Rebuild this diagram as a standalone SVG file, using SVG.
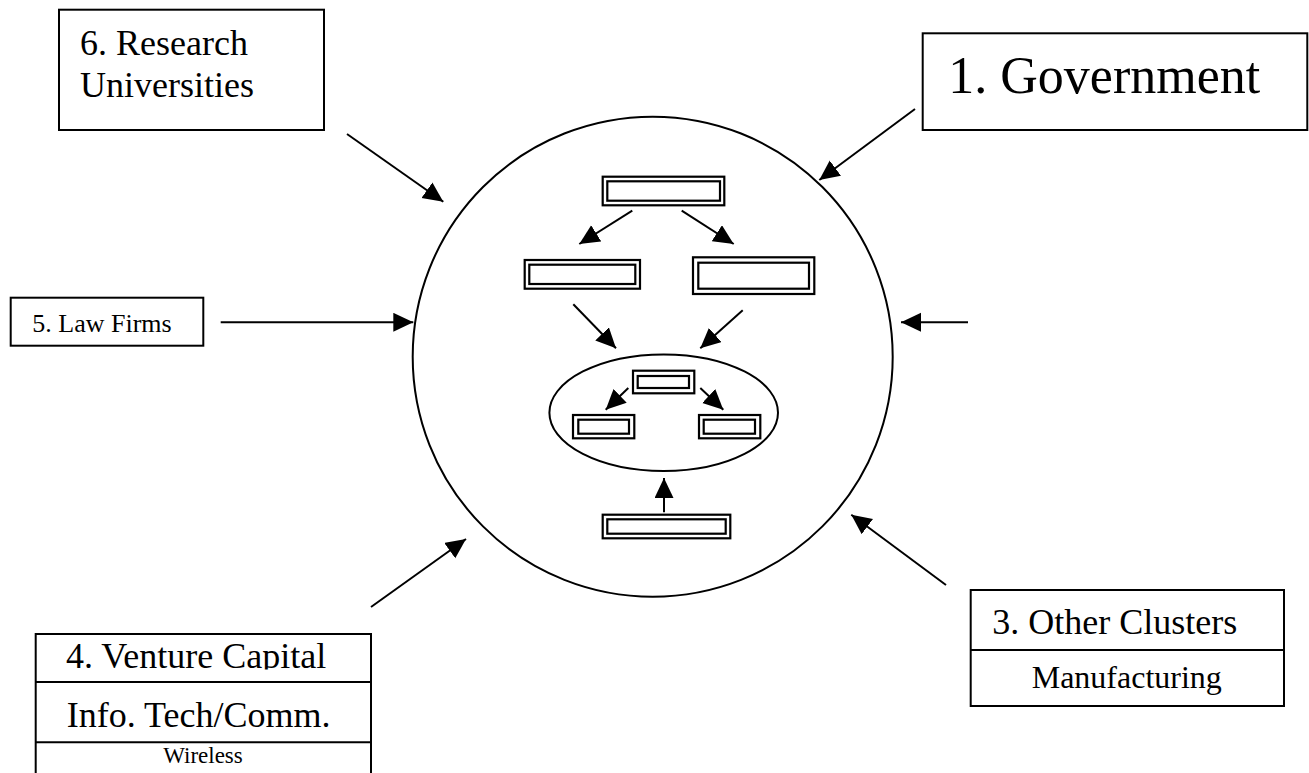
<svg xmlns="http://www.w3.org/2000/svg" width="1309" height="773" viewBox="0 0 1309 773">
<style>
  .box { fill: #fff; stroke: #000; stroke-width: 2; }
  .ln { fill: none; stroke: #000; stroke-width: 2; }
  .dbl { fill: none; stroke: #000; stroke-width: 2.2; }
  .t { font-family: "Liberation Serif", "Times New Roman", serif; fill: #000; }
  .conn { fill: none; stroke: #000; stroke-width: 2; marker-end: url(#ah); }
</style>
<defs>
  <marker id="ah" markerUnits="userSpaceOnUse" markerWidth="22" markerHeight="20" refX="20" refY="9.5" orient="auto">
    <path d="M0,0 L20,9.5 L0,19 z" fill="#000"/>
  </marker>
  <clipPath id="vcRow1"><rect x="36" y="635" width="335" height="34.5"/></clipPath>
</defs>
<rect width="1309" height="773" fill="#fff"/>

<g id="cluster">
  <circle cx="652.7" cy="356.7" r="240" class="ln"/>
  <ellipse cx="663.7" cy="412.7" rx="114.3" ry="58.3" class="ln"/>
</g>

<g id="inner-top"><rect x="602.7" y="176.7" width="121.6" height="28.6" class="dbl"/><rect x="607.3" y="181.3" width="112.7" height="19.4" class="dbl"/></g>
<g id="inner-mid-left"><rect x="524.7" y="260" width="115.3" height="28.7" class="dbl"/><rect x="529.3" y="264.7" width="106" height="19.3" class="dbl"/></g>
<g id="inner-mid-right"><rect x="693" y="257.3" width="121.3" height="36.7" class="dbl"/><rect x="698.3" y="262.7" width="110.7" height="26" class="dbl"/></g>
<g id="core-top"><rect x="633" y="370.7" width="61.3" height="22.6" class="dbl"/><rect x="637.7" y="376" width="51.3" height="12" class="dbl"/></g>
<g id="core-left"><rect x="573" y="415" width="61.3" height="23.3" class="dbl"/><rect x="578.3" y="419.7" width="50.7" height="14" class="dbl"/></g>
<g id="core-right"><rect x="699" y="415" width="61.3" height="23.3" class="dbl"/><rect x="703.7" y="419.7" width="51.3" height="14" class="dbl"/></g>
<g id="inner-bottom"><rect x="602.7" y="514.7" width="127.6" height="23.6" class="dbl"/><rect x="607.3" y="519.3" width="118.4" height="14.4" class="dbl"/></g>

<g id="n6-research">
  <rect x="59" y="9.7" width="265" height="120.3" class="box"/>
  <text class="t" x="80" y="55" font-size="36">6. Research</text>
  <text class="t" x="80" y="97.3" font-size="36">Universities</text>
</g>

<g id="n1-government">
  <rect x="922.7" y="33.3" width="384.6" height="96.7" class="box"/>
  <text class="t" x="948.3" y="93.3" font-size="52">1. Government</text>
</g>

<g id="n5-law">
  <rect x="10.7" y="297.7" width="192.6" height="48" class="box"/>
  <text class="t" x="32.3" y="331.7" font-size="26">5. Law Firms</text>
</g>

<g id="n4-venture">
  <path d="M35.7,780 L35.7,634 L371,634 L371,780" class="ln"/>
  <line x1="35.7" y1="682" x2="371" y2="682" class="ln"/>
  <line x1="35.7" y1="742.3" x2="371" y2="742.3" class="ln"/>
  <text class="t" x="66" y="667.5" font-size="36" clip-path="url(#vcRow1)">4. Venture Capital</text>
  <text class="t" x="66.7" y="727.3" font-size="36">Info. Tech/Comm.</text>
  <text class="t" x="203" y="763.3" font-size="23" text-anchor="middle">Wireless</text>
</g>

<g id="n3-other">
  <rect x="970.7" y="590" width="313.3" height="116" class="box"/>
  <line x1="970.7" y1="650" x2="1284" y2="650" class="ln"/>
  <text class="t" x="992.3" y="634" font-size="36">3. Other Clusters</text>
  <text class="t" x="1031.7" y="688.3" font-size="32">Manufacturing</text>
</g>

<g id="connectors">
  <line x1="347" y1="134" x2="443.3" y2="201.7" class="conn"/>
  <line x1="915" y1="109" x2="819.3" y2="180" class="conn"/>
  <line x1="220.7" y1="322.3" x2="413.3" y2="322.3" class="conn"/>
  <line x1="968" y1="322.3" x2="901" y2="322.3" class="conn"/>
  <line x1="371" y1="607" x2="466" y2="539" class="conn"/>
  <line x1="946" y1="585" x2="851.3" y2="514.7" class="conn"/>
  <line x1="632.3" y1="210.7" x2="579.3" y2="244" class="conn"/>
  <line x1="681.7" y1="210.7" x2="733.7" y2="244" class="conn"/>
  <line x1="573.3" y1="304.3" x2="616" y2="348.3" class="conn"/>
  <line x1="742.7" y1="310.3" x2="700.3" y2="348.3" class="conn"/>
  <line x1="628.3" y1="388" x2="605.7" y2="409.7" class="conn"/>
  <line x1="700.3" y1="388" x2="723.3" y2="409.7" class="conn"/>
  <line x1="664" y1="512.3" x2="664" y2="478" class="conn"/>
</g>
</svg>
